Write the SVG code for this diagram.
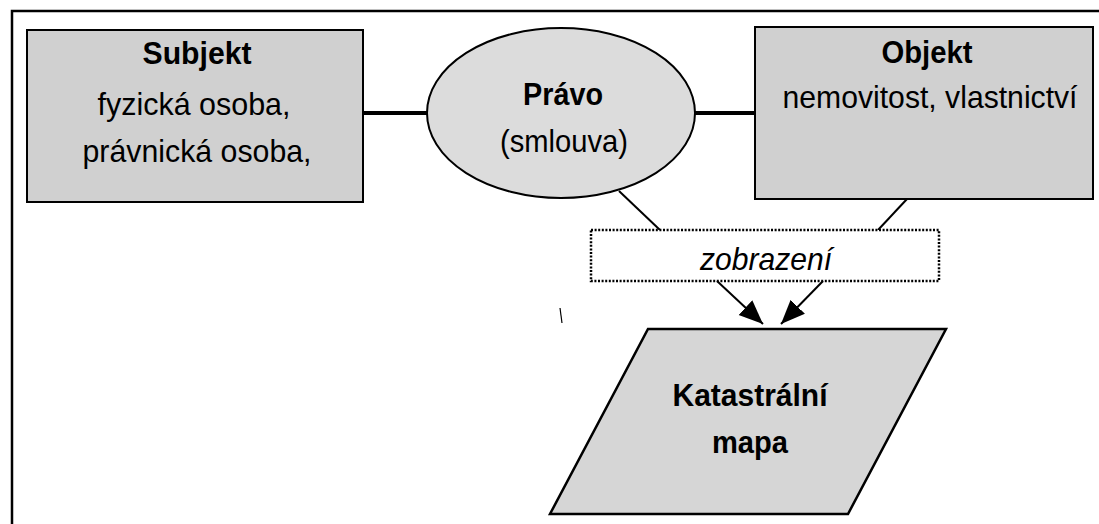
<svg xmlns="http://www.w3.org/2000/svg" width="1099" height="524" viewBox="0 0 1099 524">
  <defs>
    <style>
      text { font-family: "Liberation Sans", Arial, sans-serif; font-size: 32px; fill: #000; text-anchor: middle; }
      .bold { font-weight: bold; }
      .ital { font-style: italic; }
      .box { fill: #d0d0d0; stroke: #000; stroke-width: 2; }
      .oval { fill: #dcdcdc; stroke: #000; stroke-width: 2; }
      .map { fill: #d6d6d6; stroke: #000; stroke-width: 2.5; }
      .dotted { fill: #fff; stroke: #000; stroke-width: 2.5; stroke-dasharray: 2 1.6; }
      .link { stroke: #000; fill: none; }
      .thick { stroke-width: 4; }
      .thin { stroke-width: 2; }
    </style>
    <marker id="arrow" markerUnits="userSpaceOnUse" markerWidth="26" markerHeight="22" refX="24" refY="11" orient="auto">
      <path d="M0,1 L24,11 L0,21 Z" fill="#000"/>
    </marker>
  </defs>

  <rect width="1099" height="524" fill="#fff"/>

  <!-- outer frame: top and left edges -->
  <path d="M12,524 L12,11 L1099,11" fill="none" stroke="#000" stroke-width="2.5"/>

  <!-- connectors -->
  <g id="connectors">
    <line class="link thick" x1="363" y1="113" x2="428" y2="113"/>
    <line class="link thick" x1="694" y1="113" x2="755" y2="113"/>
    <line class="link thin" x1="619" y1="191" x2="660" y2="230"/>
    <line class="link thin" x1="907" y1="199" x2="878" y2="230"/>
    <line class="link thin" x1="717" y1="281" x2="763" y2="324" marker-end="url(#arrow)"/>
    <line class="link thin" x1="823" y1="281" x2="781" y2="324" marker-end="url(#arrow)"/>
  </g>

  <g id="subjekt">
    <rect class="box" x="27" y="30" width="336" height="172"/>
    <text class="bold" x="197" y="64" textLength="109" lengthAdjust="spacingAndGlyphs">Subjekt</text>
    <text x="194" y="115" textLength="193" lengthAdjust="spacingAndGlyphs">fyzická osoba,</text>
    <text x="197" y="162" textLength="229" lengthAdjust="spacingAndGlyphs">právnická osoba,</text>
  </g>

  <g id="pravo">
    <ellipse class="oval" cx="561" cy="113" rx="134" ry="85"/>
    <text class="bold" x="563" y="105" textLength="80" lengthAdjust="spacingAndGlyphs">Právo</text>
    <text x="564" y="152" textLength="128" lengthAdjust="spacingAndGlyphs">(smlouva)</text>
  </g>

  <g id="objekt">
    <rect class="box" x="755" y="27" width="338" height="172"/>
    <text class="bold" x="927" y="63" textLength="91" lengthAdjust="spacingAndGlyphs">Objekt</text>
    <text x="930" y="108" textLength="295" lengthAdjust="spacingAndGlyphs">nemovitost, vlastnictví</text>
  </g>

  <g id="zobrazeni">
    <rect class="dotted" x="591" y="230" width="348" height="51"/>
    <text class="ital" x="766" y="270" textLength="132" lengthAdjust="spacingAndGlyphs">zobrazení</text>
  </g>

  <g id="katastralni-mapa">
    <polygon class="map" points="648,329 946,329 848,514 550,514"/>
    <text class="bold" x="750" y="406" textLength="155" lengthAdjust="spacingAndGlyphs">Katastrální</text>
    <text class="bold" x="750" y="453" textLength="76" lengthAdjust="spacingAndGlyphs">mapa</text>
  </g>

  <!-- small stray stroke -->
  <line x1="560" y1="308" x2="562" y2="323" stroke="#000" stroke-width="1.2"/>
</svg>
